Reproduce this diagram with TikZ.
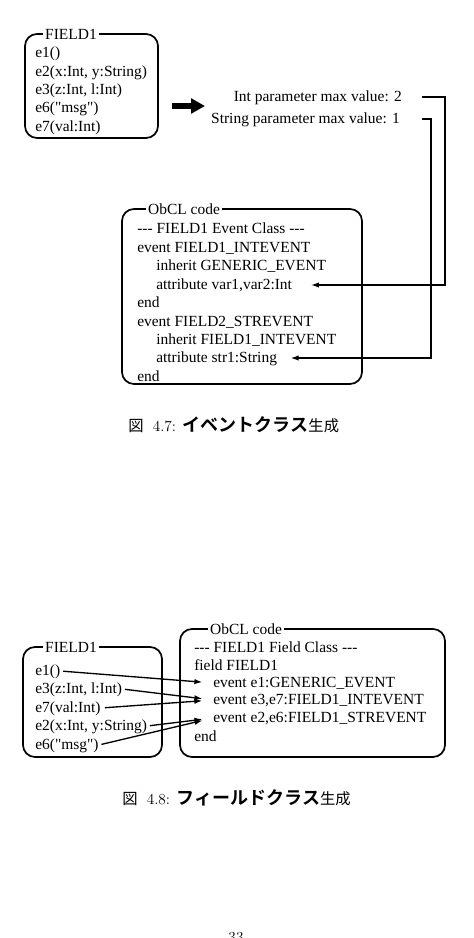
\documentclass[tikz,border=0pt]{standalone}
\usepackage{fontspec}
\newfontfamily\diagfont{Liberation Serif}[Ligatures=TeXOff]
\newfontfamily\jpfont{Noto Sans CJK JP}
\newfontfamily\jpboldfont{Noto Sans CJK JP Bold}
\usetikzlibrary{arrows.meta, fit}

\begin{document}
\begin{tikzpicture}[x=0.75pt, y=-0.75pt,
    panel/.style={draw, line width=1.3pt, rounded corners=9pt, inner sep=0pt},
    boxtitle/.style={fill=white, inner sep=1.5pt, font=\diagfont\fontsize{11.6}{14}\selectfont},
    codeline/.style={anchor=west, inner sep=0pt, text height=8.5pt, text depth=2pt, font=\diagfont\fontsize{11.6}{14}\selectfont},
    param/.style={codeline, anchor=east},
    caption/.style={anchor=west, inner sep=0pt, font=\fontsize{11.5}{13}\selectfont},
    flow/.style={-{Latex[length=6pt, width=4pt]}, line width=1pt},
    bigarrow/.style={-{Triangle[length=10.5pt, width=11pt]}, line width=4pt}]
    \useasboundingbox (0, 0) rectangle (474, 938);

    \node[panel, fit={(25, 34) (158, 138)}] (box1) {};
    \node[boxtitle] at (71, 34) (title1) {FIELD1};
    \node[codeline] at (35, 53) (a1) {e1()};
    \node[codeline] at (35, 72) (a2) {e2(x:Int, y:String)};
    \node[codeline] at (35, 90) (a3) {e3(z:Int, l:Int)};
    \node[codeline] at (35, 108) (a6) {e6("msg")};
    \node[codeline] at (35, 127) (a7) {e7(val:Int)};

    \coordinate (push) at (172, 106);
    \coordinate (pull) at (205, 106);
    \node[param] at (402, 97) (intpar) {Int parameter max value: 2};
    \node[param] at (400, 119) (strpar) {String parameter max value: 1};

    \node[panel, fit={(122, 209) (362, 384)}] (box2) {};
    \node[boxtitle] at (184, 209) (title2) {ObCL code};
    \node[codeline] at (137, 229) (b1) {--- FIELD1 Event Class ---};
    \node[codeline] at (137, 248) (b2) {event FIELD1\_INTEVENT};
    \node[codeline] at (156, 266) (b3) {inherit GENERIC\_EVENT};
    \node[codeline] at (156, 285) (b4) {attribute var1,var2:Int};
    \node[codeline] at (137, 303) (b5) {end};
    \node[codeline] at (137, 322) (b6) {event FIELD2\_STREVENT};
    \node[codeline] at (156, 340) (b7) {inherit FIELD1\_INTEVENT};
    \node[codeline] at (156, 358) (b8) {attribute str1:String};
    \node[codeline] at (137, 377) (b9) {end};

    \coordinate (intrail) at (445, 0);
    \coordinate (strrail) at (431, 0);

    \draw[bigarrow] (push) -- (pull);
    \draw[flow, shorten <=15pt, shorten >=14pt] (intpar.east) -- (intpar.east -| intrail) -- (intrail |- b4.east) -- (b4.east);
    \draw[flow, shorten <=16.5pt, shorten >=10pt] (strpar.east) -- (strpar.east -| strrail) -- (strrail |- b8.east) -- (b8.east);

    \node[caption] at (128, 425) (cap1) {{\jpfont 図}\hspace{0.6em}4.7: {\jpboldfont\fontsize{13.5}{14}\selectfont イベントクラス}{\jpfont 生成}};

    \node[panel, fit={(23, 647) (162, 757)}] (box3) {};
    \node[boxtitle] at (71, 647) (title3) {FIELD1};
    \node[codeline] at (35, 671) (c1) {e1()};
    \node[codeline] at (35, 689) (c3) {e3(z:Int, l:Int)};
    \node[codeline] at (35, 708) (c7) {e7(val:Int)};
    \node[codeline] at (35, 726) (c2) {e2(x:Int, y:String)};
    \node[codeline] at (35, 745) (c6) {e6("msg")};

    \node[panel, fit={(180, 629) (445, 757)}] (box4) {};
    \node[boxtitle] at (246, 629) (title4) {ObCL code};
    \node[codeline] at (194, 648) (d1) {--- FIELD1 Field Class ---};
    \node[codeline] at (194, 666) (d2) {field FIELD1};
    \node[codeline] at (213, 683) (d3) {event e1:GENERIC\_EVENT};
    \node[codeline] at (213, 700) (d4) {event e3,e7:FIELD1\_INTEVENT};
    \node[codeline] at (213, 718) (d5) {event e2,e6:FIELD1\_STREVENT};
    \node[codeline] at (194, 737) (d6) {end};

    \draw[flow, shorten <=2pt, shorten >=8pt] (c1.east) -- (d3.west);
    \draw[flow, shorten <=2pt, shorten >=8pt] (c3.east) -- (d4.west);
    \draw[flow, shorten <=3pt, shorten >=8pt] (c7.east) -- (d4.west);
    \draw[flow, shorten <=2pt, shorten >=8pt] (c2.east) -- (d5.west);
    \draw[flow, shorten <=2pt, shorten >=8pt] (c6.east) -- (d5.west);

    \node[caption] at (122, 798) (cap2) {{\jpfont 図}\hspace{0.6em}4.8: {\jpboldfont\fontsize{13.5}{14}\selectfont フィールドクラス}{\jpfont 生成}};

    \node[caption, anchor=base] at (236, 942) (pageno) {33};
\end{tikzpicture}
\end{document}
